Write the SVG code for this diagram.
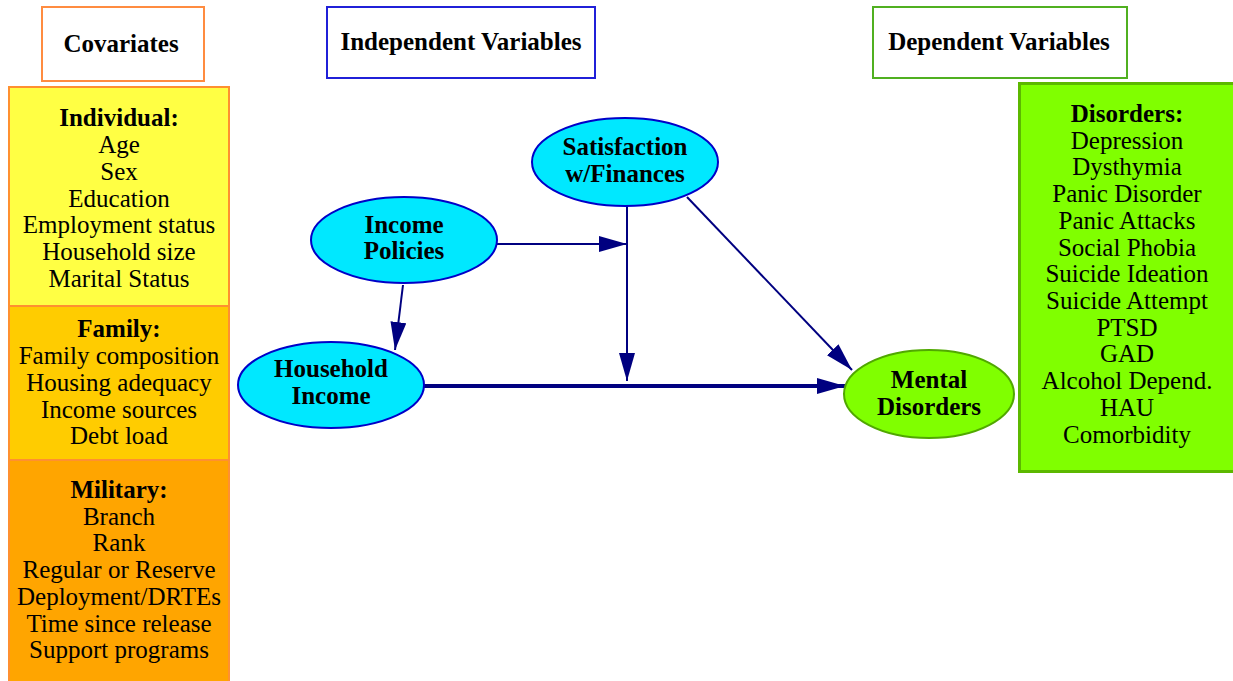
<svg xmlns="http://www.w3.org/2000/svg" width="1233" height="681" viewBox="0 0 1233 681">
<defs>
<marker id="ah" markerUnits="userSpaceOnUse" markerWidth="30" markerHeight="16" refX="28" refY="8" orient="auto">
<path d="M0,0 L28,8 L0,16 Z" fill="#000080"/>
</marker>
<style>
text{font-family:'Liberation Serif','Times New Roman',Times,serif;font-size:25px;fill:#000;text-anchor:middle}
.b{font-weight:bold}
.hdr{fill:#fff;stroke-width:2}
.ell{fill:#00E8FF;stroke:#0000C8;stroke-width:2}
.conn{stroke:#000080;stroke-width:2;fill:none}
.thick{stroke-width:4}
</style>
</defs>
<rect width="1233" height="681" fill="#fff"/>

<g id="covariates-header">
<rect class="hdr" x="42" y="7" width="162" height="74" stroke="#FF8C40"/>
<text class="b" x="121" y="52">Covariates</text>
</g>
<g id="independent-header">
<rect class="hdr" x="327" y="7" width="268" height="71" stroke="#2020D8"/>
<text class="b" x="461" y="50">Independent Variables</text>
</g>
<g id="dependent-header">
<rect class="hdr" x="873" y="7" width="254" height="71" stroke="#50B020"/>
<text class="b" x="999" y="50">Dependent Variables</text>
</g>

<g id="individual">
<rect x="9" y="87" width="220" height="219" fill="#FFFF44" stroke="#FF9030" stroke-width="2"/>
<text class="b" x="119" y="126">Individual:</text>
<text x="119" y="153">Age</text>
<text x="119" y="180">Sex</text>
<text x="119" y="207">Education</text>
<text x="119" y="233">Employment status</text>
<text x="119" y="260">Household size</text>
<text x="119" y="287">Marital Status</text>
</g>
<g id="family">
<rect x="9" y="306" width="220" height="154" fill="#FFCC00" stroke="#FF9030" stroke-width="2"/>
<text class="b" x="119" y="337">Family:</text>
<text x="119" y="364">Family composition</text>
<text x="119" y="391">Housing adequacy</text>
<text x="119" y="418">Income sources</text>
<text x="119" y="444">Debt load</text>
</g>
<g id="military">
<rect x="9" y="460" width="220" height="224" fill="#FFA500" stroke="#FF9030" stroke-width="2"/>
<text class="b" x="119" y="498">Military:</text>
<text x="119" y="525">Branch</text>
<text x="119" y="551">Rank</text>
<text x="119" y="578">Regular or Reserve</text>
<text x="119" y="605">Deployment/DRTEs</text>
<text x="119" y="632">Time since release</text>
<text x="119" y="658">Support programs</text>
</g>

<g id="disorders">
<rect x="1019.5" y="83.5" width="215" height="388" fill="#80FF00" stroke="#5CB800" stroke-width="3"/>
<text class="b" x="1127" y="122">Disorders:</text>
<text x="1127" y="149">Depression</text>
<text x="1127" y="175">Dysthymia</text>
<text x="1127" y="202">Panic Disorder</text>
<text x="1127" y="229">Panic Attacks</text>
<text x="1127" y="256">Social Phobia</text>
<text x="1127" y="282">Suicide Ideation</text>
<text x="1127" y="309">Suicide Attempt</text>
<text x="1127" y="336">PTSD</text>
<text x="1127" y="362">GAD</text>
<text x="1127" y="389">Alcohol Depend.</text>
<text x="1127" y="416">HAU</text>
<text x="1127" y="443">Comorbidity</text>
</g>

<g id="connectors">
<line class="conn" x1="497" y1="244" x2="627" y2="244" marker-end="url(#ah)"/>
<line class="conn" x1="403" y1="285" x2="395" y2="350" marker-end="url(#ah)"/>
<line class="conn" x1="627" y1="206" x2="627" y2="381" marker-end="url(#ah)"/>
<line class="conn thick" x1="424" y1="386" x2="845" y2="386" marker-end="url(#ah)"/>
<line class="conn" x1="687" y1="197" x2="852" y2="370" marker-end="url(#ah)"/>
</g>

<g id="income-policies">
<ellipse class="ell" cx="404" cy="240" rx="93" ry="43"/>
<text class="b" x="404" y="233">Income</text>
<text class="b" x="404" y="259">Policies</text>
</g>
<g id="household-income">
<ellipse class="ell" cx="331" cy="385" rx="93" ry="43"/>
<text class="b" x="331" y="377">Household</text>
<text class="b" x="331" y="404">Income</text>
</g>
<g id="satisfaction">
<ellipse class="ell" cx="625" cy="162" rx="93" ry="44"/>
<text class="b" x="625" y="155">Satisfaction</text>
<text class="b" x="625" y="182">w/Finances</text>
</g>
<g id="mental-disorders">
<ellipse cx="929" cy="394" rx="85" ry="44" fill="#80FF00" stroke="#50A800" stroke-width="2"/>
<text class="b" x="929" y="388">Mental</text>
<text class="b" x="929" y="415">Disorders</text>
</g>
</svg>
